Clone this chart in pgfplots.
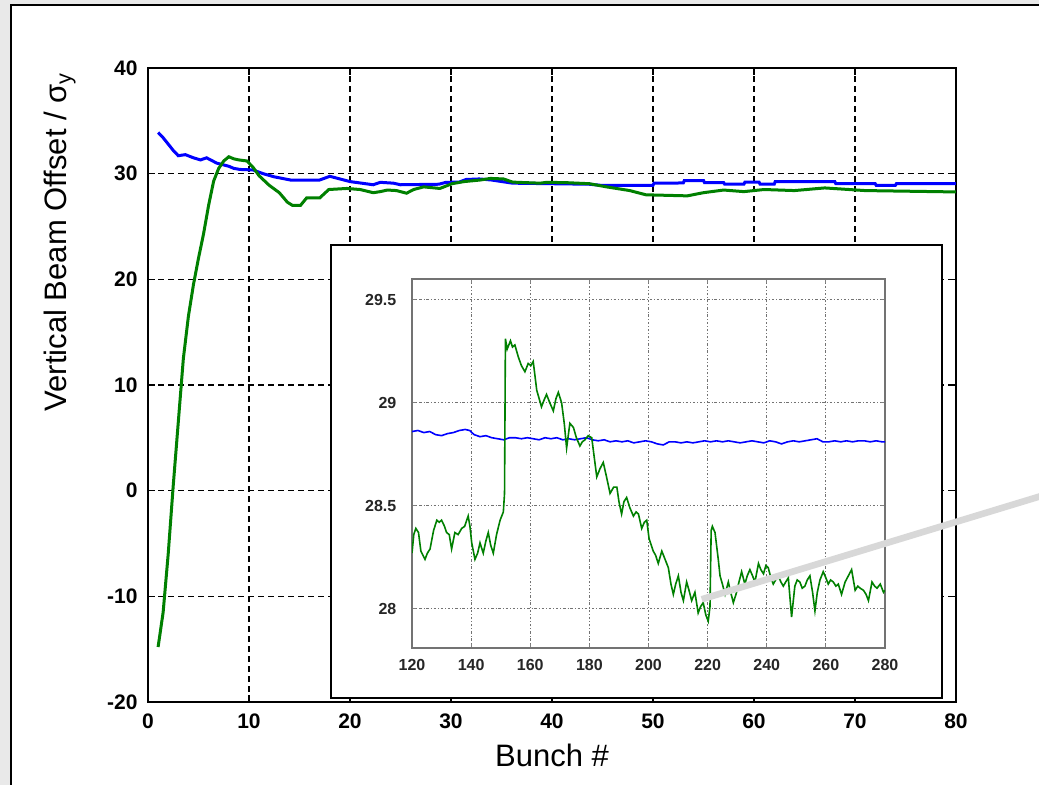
\documentclass[border=0pt]{standalone}
\usepackage{fontspec}
\setmainfont{Liberation Sans}
\usepackage{pgfplots}
\pgfplotsset{compat=1.18}
\definecolor{mgreen}{RGB}{0,128,0}
\definecolor{mblue}{RGB}{0,0,255}
\definecolor{bggray}{RGB}{233,233,233}
\definecolor{zoomline}{RGB}{216,216,216}

\begin{document}
\begin{tikzpicture}
% page = 1039 x 785 px, 1 px = 0.5 pt
\useasboundingbox (0,0) rectangle (519.5pt,392.5pt);
\clip (0,0) rectangle (519.5pt,392.5pt);
\fill[bggray] (0,0) rectangle (519.5pt,392.5pt);
\fill[white] (5.5pt,0) rectangle (530pt,390pt);
\draw[black, line width=1.2pt] (5.5pt,-5pt) -- (5.5pt,390pt) -- (530pt,390pt);

\begin{axis}[
    at={(74pt,41.5pt)}, anchor=south west,
    scale only axis, width=404pt, height=317pt,
    xmin=0, xmax=80, ymin=-20, ymax=40,
    xtick={0,10,...,80}, ytick={-20,-10,...,40},
    grid=major,
    grid style={black, line width=0.8pt, dash pattern=on 3pt off 2pt},
    axis line style={black, line width=0.9pt},
    tick align=inside, major tick length=3.5pt,
    tick style={black, line width=0.8pt},
    tick label style={font=\bfseries\fontsize{10.5}{12}\selectfont},
    /pgf/number format/assume math mode=true,
    xticklabel style={yshift=-2.5pt},
    yticklabel style={xshift=-1.7pt},
    xlabel={Bunch \#},
    ylabel={Vertical Beam Offset / σ\textsubscript{y}},
    every axis x label/.style={at={(rel axis cs:0.5,-0.0836)}, anchor=center,
        font=\fontsize{15.5}{18}\selectfont},
    every axis y label/.style={at={(rel axis cs:-0.109,0.7256)}, rotate=90, anchor=center,
        font=\fontsize{15.5}{18}\selectfont},
]
\addplot[mblue, line width=1.5pt] coordinates {
(1.0,33.9) (1.5,33.4) (2.0,32.8) (2.5,32.2) (3.0,31.7) (3.7,31.8) (4.5,31.5)
(5.2,31.3) (5.8,31.5) (6.8,31.0) (8.0,30.7) (8.5,30.5) (9.1,30.4) (10.4,30.35)
(11.4,30.0) (12.5,29.7) (14.1,29.4) (17.0,29.4) (18.0,29.75) (19.0,29.5)
(20.0,29.25) (22.3,28.95) (23.0,29.18) (24.3,29.1) (25,28.95) (28.8,29.0)
(29.5,29.18) (30.8,29.2) (31.5,29.45) (32.8,29.5) (34,29.4) (36.1,29.1)
(43.7,29.0) (44.8,28.9) (50.0,28.9) (50.1,29.1) (53.0,29.12) (53.1,29.35)
(55.0,29.35) (55.1,29.15) (57,29.15) (57.1,29.0) (59,29.0) (59.1,29.2)
(60.5,29.2) (60.6,29.0) (62,29.0) (62.1,29.25) (68,29.25) (68.1,29.05)
(72,29.05) (72.1,28.9) (74,28.9) (74.1,29.05) (80,29.05)
};
\addplot[mgreen, line width=1.5pt] coordinates {
(1.0,-14.8) (1.5,-11.5) (2.0,-6) (2.5,0.5) (3.0,6.5) (3.5,12.5) (4.0,16.5)
(4.5,19.5) (5.0,22) (5.5,24.3) (6.0,27) (6.5,29.3) (7.0,30.5) (7.5,31.2)
(8.0,31.6) (8.5,31.4) (9.0,31.3) (9.8,31.2) (10.4,30.6) (11.0,29.8) (12.0,28.9)
(13.0,28.2) (13.8,27.3) (14.3,27.0) (15.1,27.0) (15.7,27.7) (17.0,27.7)
(17.9,28.5) (19.7,28.6) (21,28.5) (22.3,28.2) (23.0,28.3) (23.7,28.45)
(24.6,28.4) (25.6,28.15) (26.3,28.5) (27.3,28.75) (28.9,28.6) (30.1,29.05)
(31.3,29.25) (32.9,29.4) (33.9,29.55) (35.2,29.5) (36.1,29.2) (38.8,29.1)
(39.5,29.18) (41.4,29.15) (43.7,29.05) (45.4,28.75) (47.7,28.4) (49.3,28.0)
(53.4,27.9) (55,28.2) (57,28.45) (59,28.3) (61,28.5) (64,28.4) (67,28.65)
(71,28.4) (80,28.27)
};
\end{axis}

% inset panel
\draw[black, line width=1.3pt, fill=white] (165.5pt,43.5pt) rectangle (471pt,270pt);

\begin{axis}[
    at={(206pt,68.5pt)}, anchor=south west,
    scale only axis, width=236.5pt, height=184.5pt,
    xmin=120, xmax=280, ymin=27.81, ymax=29.60,
    xtick={120,140,...,280}, ytick={28,28.5,29,29.5},
    grid=major,
    grid style={gray!90!black, line width=0.5pt, dash pattern=on 1.2pt off 1pt on 0.4pt off 1pt},
    axis line style={gray!90!black, line width=0.6pt},
    tick align=inside, major tick length=2pt,
    tick style={gray, line width=0.5pt},
    tick label style={font=\bfseries\fontsize{8}{9}\selectfont, text=black!85},
    /pgf/number format/assume math mode=true,
    xticklabel style={yshift=-2.3pt},
    yticklabel style={xshift=-4.3pt},
]
\addplot[mblue, line width=0.8pt] coordinates {
(120,28.86) (122,28.865) (124,28.855) (126,28.86) (128,28.845) (130,28.84)
(132,28.85) (134,28.855) (136,28.865) (138,28.87) (139.5,28.865) (141,28.845)
(143,28.835) (145,28.84) (147,28.83) (149,28.825) (151,28.82) (153,28.83)
(155,28.83) (157,28.825) (159,28.83) (161,28.825) (163,28.82) (165,28.83)
(167,28.825) (169,28.83) (171,28.82) (173,28.825) (175,28.82) (177,28.825)
(179,28.83) (181,28.82) (183,28.815) (185,28.82) (187,28.81) (189,28.815)
(191,28.81) (193,28.815) (195,28.805) (197,28.81) (199,28.815) (201,28.81)
(203,28.8) (205,28.795) (207,28.81) (209,28.81) (211,28.805) (213,28.81)
(215,28.805) (217,28.81) (219,28.815) (221,28.81) (223,28.815) (225,28.81)
(227,28.815) (229,28.81) (231,28.805) (233,28.81) (235,28.815) (237,28.81)
(239,28.805) (241,28.815) (243,28.81) (245,28.8) (247,28.81) (249,28.815)
(251,28.81) (253,28.815) (255,28.82) (257,28.825) (259,28.81) (261,28.81)
(263,28.815) (265,28.81) (267,28.815) (269,28.81) (271,28.815) (273,28.815)
(275,28.81) (277,28.815) (279,28.81) (280,28.81)
};
\addplot[mgreen, line width=0.8pt] coordinates {
(120.0,28.27) (120.6,28.36) (121.3,28.39) (122.2,28.37) (123.0,28.28)
(124.4,28.24) (125.2,28.27) (126.1,28.29) (127.3,28.38) (128.4,28.43)
(129.2,28.42) (130.0,28.43) (131.0,28.40) (131.7,28.37) (132.6,28.36)
(133.4,28.29) (134.5,28.37) (135.6,28.36) (136.8,28.39) (137.8,28.40)
(139.0,28.45) (139.6,28.40) (140.2,28.32) (141.3,28.24) (142.2,28.27)
(143.0,28.32) (144.1,28.27) (145.0,28.33) (145.8,28.37) (146.6,28.31)
(147.5,28.27) (148.6,28.36) (149.8,28.43) (150.9,28.47) (151.3,28.56)
(151.6,29.31) (152.2,29.26) (153.3,29.30) (154.0,29.27) (154.8,29.28)
(156.0,29.22) (157.0,29.18) (158.2,29.15) (159.3,29.19) (160.2,29.18)
(161.0,29.20) (162.2,29.06) (163.0,29.02) (163.8,28.98) (164.6,29.01)
(165.5,29.04) (166.6,29.00) (167.8,28.96) (168.7,29.02) (169.5,29.05)
(170.6,29.00) (171.5,28.90) (172.3,28.78) (173.4,28.90) (174.6,28.88)
(175.6,28.83) (176.8,28.79) (177.6,28.81) (178.5,28.82) (179.6,28.84)
(180.8,28.83) (181.6,28.74) (182.5,28.64) (183.6,28.68) (184.7,28.71)
(185.8,28.64) (187.0,28.56) (188.2,28.59) (189.3,28.59) (190.0,28.52)
(190.9,28.46) (191.7,28.52) (192.6,28.54) (193.7,28.49) (194.9,28.45)
(195.8,28.47) (196.6,28.46) (197.7,28.39) (198.6,28.42) (199.4,28.43)
(200.2,28.34) (201.6,28.28) (202.4,28.26) (203.3,28.22) (204.5,28.28)
(205.6,28.24) (206.7,28.20) (207.6,28.12) (208.4,28.07) (209.2,28.12)
(210.1,28.16) (211.0,28.08) (211.8,28.04) (212.9,28.13) (213.7,28.09)
(214.6,28.04) (215.7,28.08) (216.8,27.98) (217.6,28.01) (218.5,28.03)
(219.4,27.97) (220.2,27.94) (220.8,28.01) (221.2,28.38) (221.6,28.40)
(222.5,28.37) (223.6,28.24) (224.2,28.16) (225.0,28.12) (225.9,28.07)
(227.0,28.13) (227.8,28.08) (228.7,28.03) (229.8,28.08) (230.6,28.13)
(231.5,28.18) (232.6,28.12) (233.4,28.16) (234.3,28.19) (235.2,28.16)
(236.0,28.13) (237.2,28.22) (238.0,28.19) (238.9,28.17) (239.7,28.21)
(240.5,28.20) (241.4,28.15) (242.2,28.12) (243.0,28.14) (243.9,28.16)
(244.8,28.13) (245.6,28.11) (246.4,28.13) (247.3,28.15) (248.4,27.96)
(249.5,28.11) (250.3,28.14) (251.2,28.13) (252.0,28.10) (252.9,28.11)
(253.7,28.14) (254.6,28.16) (255.5,28.08) (256.3,27.99) (257.1,28.08)
(258.0,28.14) (259.1,28.18) (260.0,28.15) (260.8,28.12) (261.6,28.14)
(262.5,28.13) (263.4,28.11) (264.2,28.12) (265.3,28.07) (266.5,28.13)
(267.6,28.16) (268.7,28.19) (269.9,28.09) (270.8,28.11) (271.6,28.10)
(272.7,28.09) (273.6,28.07) (274.4,28.04) (275.6,28.13) (276.5,28.11)
(277.3,28.10) (278.4,28.12) (279.5,28.08) (280.0,28.09)
};
\end{axis}

% zoom pointer
\draw[zoomline, line width=3.3pt] (350.85pt,92.85pt) -- (530pt,147.35pt);
\end{tikzpicture}
\end{document}
